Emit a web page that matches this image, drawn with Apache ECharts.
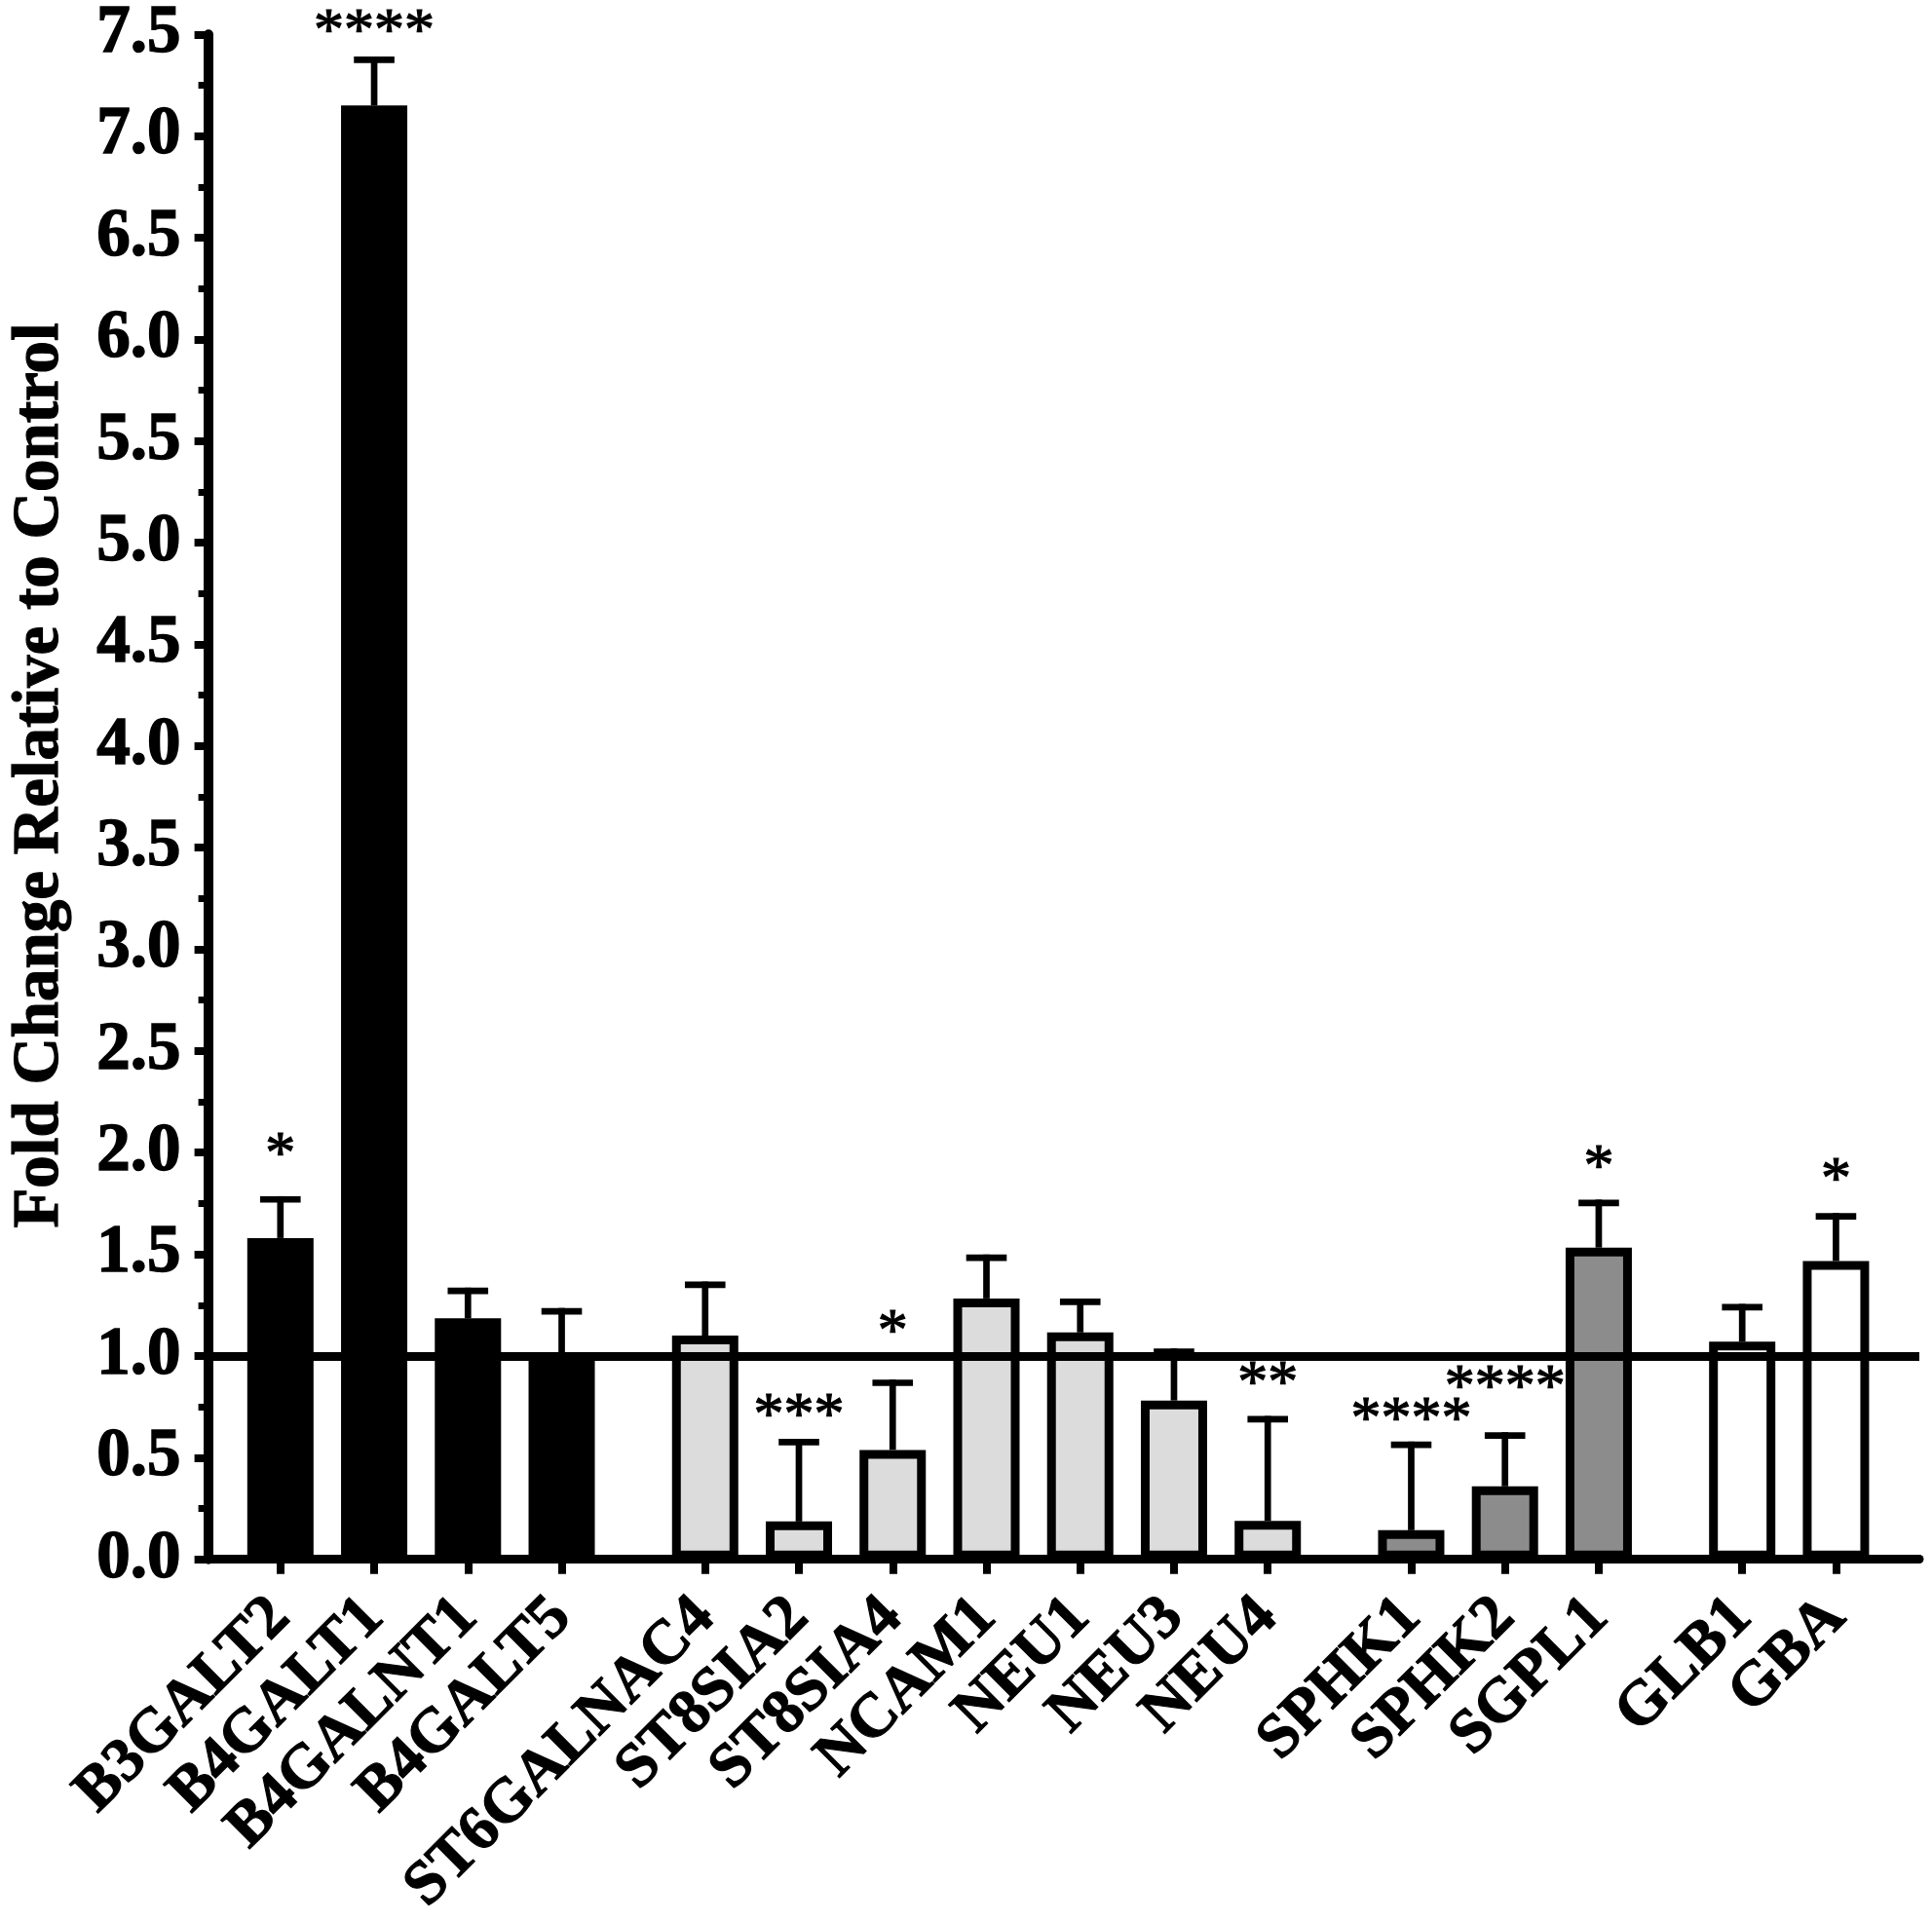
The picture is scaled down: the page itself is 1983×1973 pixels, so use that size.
<!DOCTYPE html>
<html><head><meta charset="utf-8">
<script src="https://cdn.jsdelivr.net/npm/echarts@6/dist/echarts.min.js"></script>
<style>html,body{margin:0;padding:0;background:#fff}#c{width:1983px;height:1973px}</style>
</head><body><div id="c"></div>
<script>
// ---- data ----
const categories = ['B3GALT2','B4GALT1','B4GALNT1','B4GALT5','ST6GALNAC4','ST8SIA2','ST8SIA4','NCAM1','NEU1','NEU3','NEU4','SPHK1','SPHK2','SGPL1','GLB1','GBA'];
const groups     = [0,0,0,0,1,1,1,1,1,1,1,2,2,2,3,3];
const means      = [1.58,7.15,1.185,0.99,1.10,0.186,0.538,1.283,1.116,0.781,0.189,0.143,0.359,1.533,1.07,1.467];
const sems       = [0.19,0.225,0.135,0.23,0.25,0.39,0.33,0.20,0.15,0.24,0.50,0.42,0.25,0.22,0.17,0.22];
const sigLabels  = ['*','****','','','','***','*','','','','**','****','****','*','','*'];
const sigHeights = [2.036,7.56,null,null,null,0.752,1.163,null,null,null,0.91,0.733,0.89,1.973,null,1.91];
const referenceLevel = 1.0;

// ---- layout / style ----
const groupColors = ['#000000','#dcdcdc','#8c8c8c','#ffffff'];
const GROUP_GAP = 0.53;
const FONT = "'Liberation Serif', 'Times New Roman', serif";
const positions = categories.map((c,i)=> i + GROUP_GAP*groups[i]);

const chart = echarts.init(document.getElementById('c'), null, {renderer:'canvas'});
const option = {
  animation:false,
  backgroundColor:'#fff',
  grid:{left:207, right:13, top:34.5, bottom:356, containLabel:false},
  xAxis:{
    type:'value', min:-0.771, max:17.479,
    splitLine:{show:false},
    axisLine:{show:true, onZero:false, lineStyle:{color:'#000', width:9}},
    axisTick:{show:true, customValues:positions, length:15, lineStyle:{color:'#000', width:8}},
    axisLabel:{
      customValues:positions, rotate:45, margin:50,
      fontSize:64, fontWeight:'bold', fontFamily:FONT, color:'#000',
      textBorderColor:'#000', textBorderWidth:1.2,
      formatter:function(v){
        for (let i=0;i<positions.length;i++){ if (Math.abs(positions[i]-v)<1e-6) return categories[i]; }
        return '';
      }
    }
  },
  yAxis:{
    type:'value', min:0, max:7.5, interval:0.5,
    name:'Fold Change Relative to Control', nameLocation:'middle', nameGap:138,
    nameTextStyle:{fontSize:67, fontWeight:'bold', fontFamily:FONT, color:'#000',
      textBorderColor:'#000', textBorderWidth:1.2, padding:[0,0,0,44]},
    splitLine:{show:false},
    axisLine:{show:true, onZero:false, lineStyle:{color:'#000', width:10}},
    axisTick:{show:true, length:14, lineStyle:{color:'#000', width:8}},
    minorTick:{show:true, splitNumber:2, length:10, lineStyle:{color:'#000', width:7}},
    minorSplitLine:{show:false},
    axisLabel:{margin:28, fontSize:69, fontWeight:'bold', fontFamily:FONT, color:'#000',
      textBorderColor:'#000', textBorderWidth:1.5,
      formatter:function(v){return v.toFixed(1);}}
  },
  series:[
    {
      type:'bar', barWidth:68, z:2,
      itemStyle:{borderColor:'#000', borderWidth:9},
      data:categories.map((c,i)=>({value:[positions[i], means[i]], itemStyle:{color:groupColors[groups[i]]}}))
    },
    {
      type:'custom', z:5,
      data:categories.map((c,i)=>[positions[i], means[i], sems[i], i]),
      renderItem:function(params, api){
        const x = api.value(0), m = api.value(1), e = api.value(2), idx = api.value(3);
        const p0 = api.coord([x, m]);
        const p1 = api.coord([x, m+e]);
        const lw = 6.7, capHalf = 20.8;
        const children = [
          {type:'line', shape:{x1:p0[0], y1:p0[1], x2:p1[0], y2:p1[1]-lw/2}, style:{stroke:'#000', lineWidth:lw}},
          {type:'line', shape:{x1:p1[0]-capHalf, y1:p1[1], x2:p1[0]+capHalf, y2:p1[1]}, style:{stroke:'#000', lineWidth:lw}}
        ];
        if (sigLabels[idx]) {
          const ps = api.coord([x, sigHeights[idx]]);
          children.push({type:'text', style:{text:sigLabels[idx], x:ps[0], y:ps[1]+11,
            font:"62px "+FONT, fill:'#000', stroke:'#000', lineWidth:1.2,
            align:'center', verticalAlign:'middle'}});
        }
        return {type:'group', children:children};
      },
      markLine:{
        silent:true, symbol:['none','none'], z:6,
        label:{show:false},
        lineStyle:{color:'#000', width:9, type:'solid'},
        data:[{yAxis:referenceLevel}]
      }
    }
  ]
};
chart.setOption(option);
</script></body></html>
